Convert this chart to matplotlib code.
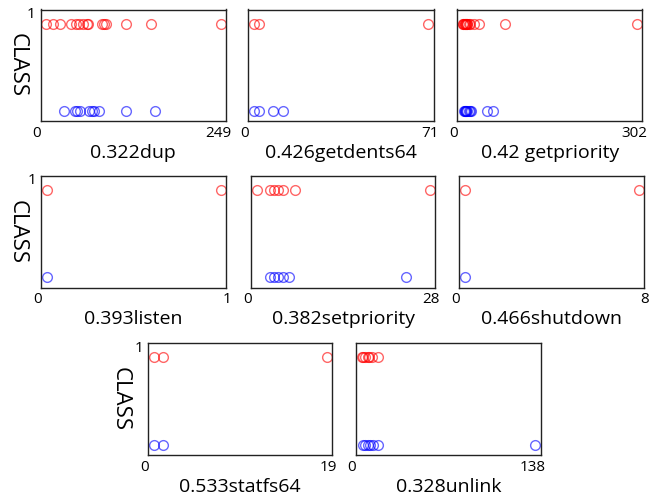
import matplotlib
matplotlib.use('Agg')
import matplotlib.pyplot as plt
import matplotlib.transforms as mtrans

plt.rcParams['font.family'] = ['Open Sans', 'DejaVu Sans']

# attribute labels and x maxima
names = ['0.322dup', '0.426getdents64', '0.42 getpriority',
         '0.393listen', '0.382setpriority', '0.466shutdown',
         '0.533statfs64', '0.328unlink']
xmax = [249, 71, 302, 1, 28, 8, 19, 138]

# attribute values of CLASS=1 (red) rows
red_x = [
    [0, 10, 19, 36, 42, 47, 52, 58, 60, 79, 82, 85, 114, 150, 249],
    [0, 2, 71],
    [0, 1, 2, 3, 4, 5, 6, 7, 8, 10, 12, 20, 28, 73, 302],
    [0, 1],
    [0, 2.2, 2.8, 3.4, 4.2, 6.2, 28],
    [0, 8],
    [0, 1, 19],
    [0, 1, 3, 5, 6, 8, 13],
]
# attribute values of CLASS=0 (blue) rows
blue_x = [
    [26, 41, 44, 48, 61, 65, 68, 75, 114, 156],
    [0, 2, 8, 12],
    [2, 3, 4, 5, 6, 8, 10, 12, 14, 42, 52],
    [0],
    [2.2, 2.8, 3.5, 4.2, 5.2, 24.2],
    [0],
    [0, 1],
    [1, 3, 5, 7, 9, 13, 138],
]

W, H = 649, 499
# panel boxes in pixels: left, top, right, bottom
boxes = [(40.7, 9.5, 226, 120.7), (248.3, 9.5, 433.7, 120.7), (457.3, 9.5, 642, 120.7),
         (41.3, 176, 226, 287.5), (251.3, 176, 435, 287.5), (459.3, 176, 644, 287.5),
         (148.3, 343.3, 332.3, 454.7), (356, 343.3, 540.7, 454.7)]
show_y = [True, False, False, True, False, False, True, False]
ylab_off = [24, 0, 0, 24, 0, 0, 28, 0]

fig = plt.figure(figsize=(W / 100, H / 100), dpi=100)

Y_LO, Y_HI = -0.115, 1.162
for i, (l, t, r, b) in enumerate(boxes):
    ax = fig.add_axes([l / W, 1 - b / H, (r - l) / W, (b - t) / H])
    wpx = r - l
    pad = 5.5 / wpx / (1 - 2 * 5.5 / wpx) * xmax[i]
    ax.set_xlim(-pad, xmax[i] + pad)
    ax.set_ylim(Y_LO, Y_HI)
    ax.plot(red_x[i], [1] * len(red_x[i]), 'o', ms=7.0, mfc='none',
            mec=(1, 0, 0, 0.6), mew=1.0)
    ax.plot(blue_x[i], [0] * len(blue_x[i]), 'o', ms=7.0, mfc='none',
            mec=(0, 0, 1, 0.6), mew=1.0)
    for sp in ax.spines.values():
        sp.set_linewidth(1.0)
        sp.set_color('#222222')

    ax.set_xticks([-pad, xmax[i] + pad], ['0', str(xmax[i])])
    ax.tick_params(axis='both', length=0, labelsize=11, pad=3.5)
    xl = ax.get_xticklabels()
    xl[0].set_ha('center')
    xl[0].set_transform(xl[0].get_transform() +
                        mtrans.ScaledTranslation(-4 / 100, 0, fig.dpi_scale_trans))
    xl[1].set_ha('right')
    xl[1].set_transform(xl[1].get_transform() +
                        mtrans.ScaledTranslation(5 / 100, 0, fig.dpi_scale_trans))

    if show_y[i]:
        ax.set_yticks([Y_HI], ['1'])
        yl = ax.get_yticklabels()[0]
        yl.set_transform(yl.get_transform() +
                         mtrans.ScaledTranslation(0, -3 / 100, fig.dpi_scale_trans))
        ax.set_ylabel('CLASS', rotation=270, fontsize=16, va='center')
        ax.yaxis.set_label_coords(-ylab_off[i] / wpx, 0.5)
    else:
        ax.set_yticks([])

    ax.set_xlabel(names[i], fontsize=14, va='center')
    ax.xaxis.set_label_coords(0.5, -32 / (b - t))

fig.savefig('out.png', dpi=100)
